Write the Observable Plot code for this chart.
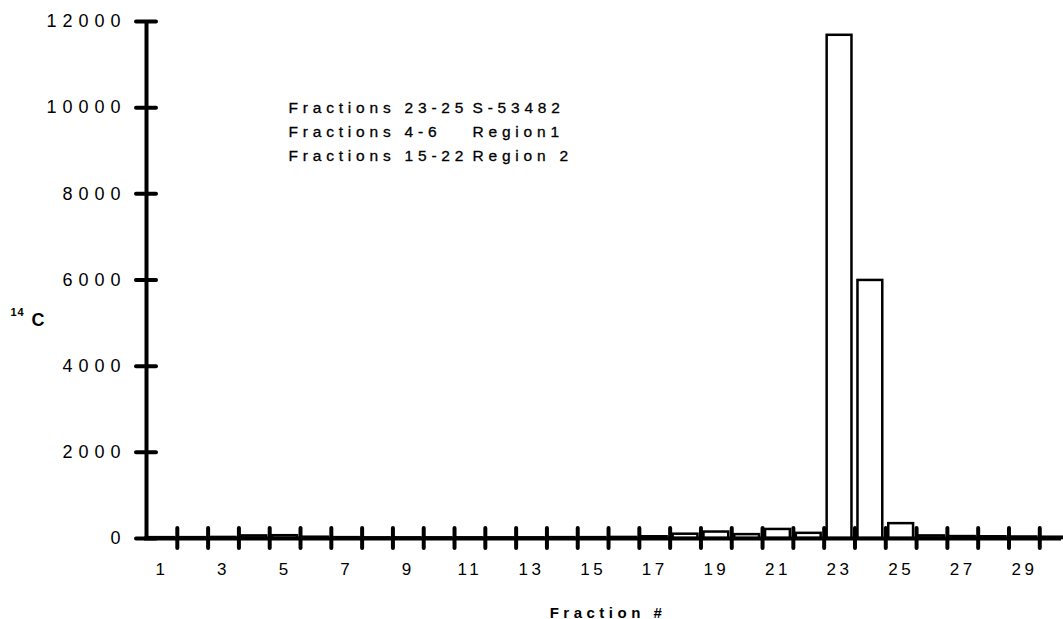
<!DOCTYPE html>
<html>
<head>
<meta charset="utf-8">
<script src="https://cdn.jsdelivr.net/npm/d3@7"></script>
<script src="https://cdn.jsdelivr.net/npm/@observablehq/plot@0.6"></script>
<style>
  html, body { margin: 0; padding: 0; background: #fff; overflow: hidden; }
  #chart svg { display: block; }
  g[aria-label="y-axis tick label"] text { letter-spacing: 6px; }
  g[aria-label="x-axis tick label"] text { letter-spacing: 3.5px; }
  g[aria-description="legend"] text { letter-spacing: 4.8px; }
  g[aria-description="xlabel"] text { letter-spacing: 4.5px; }
  g[aria-description="ylabel"] text { letter-spacing: 1px; }
</style>
</head>
<body>
<div id="chart"></div>
<script>
// Fraction numbers and 14C counts
const fractions = [1,2,3,4,5,6,7,8,9,10,11,12,13,14,15,16,17,18,19,20,21,22,23,24,25,26,27,28,29,30];
const counts14C = [20,20,25,60,65,30,20,15,15,15,15,15,15,20,20,25,40,100,150,90,210,120,11680,5990,345,60,45,40,35,30];

// Axis ticks and labels
const yTicks = [0,2000,4000,6000,8000,10000,12000];
const xLabelTicks = [1,3,5,7,9,11,13,15,17,19,21,23,25,27,29];
const xBoundaryTicks = [1.5,2.5,3.5,4.5,5.5,6.5,7.5,8.5,9.5,10.5,11.5,12.5,13.5,14.5,15.5,16.5,17.5,18.5,19.5,20.5,21.5,22.5,23.5,24.5,25.5,26.5,27.5,28.5,29.5];

// Texts
const legendLeft = ["Fractions 23-25", "Fractions 4-6", "Fractions 15-22"];
const legendRight = ["S-53482", "Region1", "Region 2"];
const yLabelSup = "14";
const yLabelMain = "C";
const xLabel = "Fraction #";

const data = fractions.map((f, i) => ({fraction: f, value: counts14C[i]}));

const chart = Plot.plot({
  width: 1063,
  height: 619,
  marginLeft: 146,
  marginRight: 0,
  marginTop: 21,
  marginBottom: 81,
  style: {fontFamily: "'Liberation Sans', Arial, sans-serif", color: "#000", background: "#fff"},
  x: {type: "linear", domain: [0.5, 30.27], axis: null},
  y: {type: "linear", domain: [0, 12000], axis: null},
  marks: [
    Plot.rectY(data, {
      x1: d => d.fraction - 0.5,
      x2: d => d.fraction + 0.5,
      y1: 0,
      y2: "value",
      insetLeft: 3,
      insetRight: 3,
      fill: "#fff",
      stroke: "#000",
      strokeWidth: 2.5
    }),
    Plot.ruleY([0], {stroke: "#000", strokeWidth: 4, dx: -2}),
    Plot.ruleX([0.5], {stroke: "#000", strokeWidth: 4}),
    // y axis cross ticks
    Plot.axisY({ticks: yTicks, label: null, tickSize: 20, dx: 10, tickFormat: () => "", strokeWidth: 4, strokeLinecap: "round"}),
    // y axis labels
    Plot.axisY({ticks: yTicks, label: null, tickSize: 0, tickPadding: 20, tickFormat: d => String(d), fontSize: 18, fill: "#000", stroke: "#000", strokeWidth: 0.3}),
    // x axis cross ticks at band boundaries
    Plot.axisX({ticks: xBoundaryTicks, label: null, tickSize: 20, dy: -10, tickFormat: () => "", strokeWidth: 4, strokeLinecap: "round"}),
    // x axis labels
    Plot.axisX({ticks: xLabelTicks, label: null, tickSize: 0, tickPadding: 24, tickFormat: d => String(d), fontSize: 17, fill: "#000", stroke: "#000", strokeWidth: 0.3}),
    // legend
    Plot.text([legendLeft.join("\n")], {
      frameAnchor: "top-left", textAnchor: "start", lineAnchor: "top",
      dx: 142, dy: 74, lineHeight: 1.56, fontSize: 15.5, fill: "#000", stroke: "#000", strokeWidth: 0.3, ariaDescription: "legend"
    }),
    Plot.text([legendRight.join("\n")], {
      frameAnchor: "top-left", textAnchor: "start", lineAnchor: "top",
      dx: 326, dy: 74, lineHeight: 1.56, fontSize: 15.5, fill: "#000", stroke: "#000", strokeWidth: 0.3, ariaDescription: "legend"
    }),
    // y label
    Plot.text([yLabelSup], {
      frameAnchor: "left", textAnchor: "start", lineAnchor: "bottom",
      dx: -136, dy: 36, fontSize: 11, fontWeight: "bold", fill: "#000", ariaDescription: "ylabel"
    }),
    Plot.text([yLabelMain], {
      frameAnchor: "left", textAnchor: "start", lineAnchor: "bottom",
      dx: -115, dy: 46, fontSize: 18, fontWeight: "bold", fill: "#000", ariaDescription: "ylabel"
    }),
    // x label
    Plot.text([xLabel], {
      frameAnchor: "bottom", textAnchor: "middle", lineAnchor: "bottom",
      dx: 3, dy: 79, fontSize: 15, fontWeight: "bold", fill: "#000", ariaDescription: "xlabel"
    })
  ]
});

document.getElementById("chart").appendChild(chart);
</script>
</body>
</html>
